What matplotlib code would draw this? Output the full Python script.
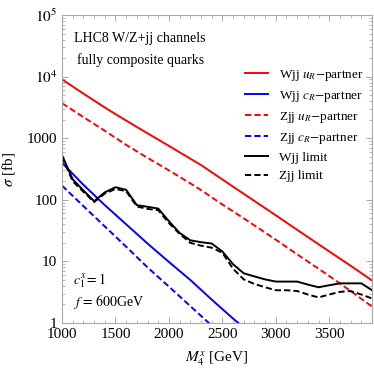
# LHC8 W/Z+jj cross sections vs. limits
import numpy as np
import matplotlib
matplotlib.use('Agg')
import matplotlib.pyplot as plt
from matplotlib.ticker import FixedLocator, FixedFormatter, NullFormatter

plt.rcParams['font.family'] = ['Liberation Serif', 'DejaVu Serif']
plt.rcParams['mathtext.fontset'] = 'stix'

# theory curves (M in GeV, sigma in fb)
m_uR = [1000, 1200, 1400, 1600, 1800, 2000, 2200, 2300, 2500, 2700, 3000, 3200, 3500, 3700, 3900]
wjj_uR = [9000, 5300, 3150, 1930, 1200, 750, 465, 367, 214, 125, 56, 32.5, 14.5, 8.5, 4.9]
zjj_uR = [3700, 2200, 1320, 780, 480, 300, 185, 144, 84, 50, 22.5, 13, 5.8, 3.3, 1.85]

m_cR = [1000, 1200, 1400, 1600, 1800, 2000, 2200, 2400, 2600, 2800]
wjj_cR = [400, 175, 82, 40, 19.5, 9.8, 5.0, 2.4, 1.18, 0.6]
zjj_cR = [170, 79, 37, 17.3, 8.0, 3.9, 1.88, 0.91, 0.45, 0.22]

# experimental limits
m_lim = [1000, 1100, 1200, 1300, 1400, 1500, 1600, 1700, 1800, 1900, 2000,
         2100, 2200, 2300, 2400, 2500, 2600, 2700, 2800, 2900, 3000,
         3100, 3200, 3300, 3400, 3500, 3600, 3700, 3800, 3900]
wjj_lim = [530, 215, 142, 95, 132, 160, 145, 82, 77, 72, 45,
           29, 22, 20.5, 19.5, 14.5, 9, 6.4, 5.7, 5.1, 4.7,
           4.7, 4.7, 4.2, 3.8, 4.1, 4.4, 4.4, 4.4, 3.4]
zjj_lim = [500, 200, 135, 92, 126, 150, 138, 78, 71, 68, 42,
           28, 20, 18, 16.7, 13.8, 7.6, 5.1, 4.3, 3.8, 3.4,
           3.4, 3.3, 2.9, 2.6, 2.9, 3.2, 3.3, 2.9, 2.5]

fig = plt.figure(figsize=(3.74, 3.74), dpi=100)
ax = fig.add_axes([0.1658, 0.1364, 0.8289, 0.8235])

lw = 1.4
dash = (0, (3.2, 1.6))
ax.plot(m_uR, wjj_uR, color='#ff0000', lw=lw, label=r'Wjj $u_R$$-$partner')
ax.plot(m_cR, wjj_cR, color='#0000ff', lw=lw, label=r'Wjj $c_R$$-$partner')
ax.plot(m_uR, zjj_uR, color='#ff0000', lw=lw, ls=dash, label=r'Zjj $u_R$$-$partner')
ax.plot(m_cR, zjj_cR, color='#0000ff', lw=lw, ls=dash, label=r'Zjj $c_R$$-$partner')
ax.plot(m_lim, wjj_lim, color='black', lw=lw, label='Wjj limit')
ax.plot(m_lim, zjj_lim, color='black', lw=lw, ls=dash, label='Zjj limit')

ax.set_yscale('log')
ax.set_xlim(1000, 3900)
ax.set_ylim(1, 1e5)

ax.yaxis.set_major_locator(FixedLocator([1, 10, 100, 1000, 1e4, 1e5]))
ax.yaxis.set_major_formatter(FixedFormatter(['1', '10', '100', '1000', r'$10^4$', r'$10^5$']))
ax.yaxis.set_minor_formatter(NullFormatter())
ax.set_xticks([1000, 1500, 2000, 2500, 3000, 3500])
ax.set_xticks(np.arange(1000, 3901, 100), minor=True)

ax.tick_params(which='both', direction='in', top=True, right=True, colors='#999999',
               labelcolor='black', labelsize=11)
ax.tick_params(which='major', length=4, width=0.6)
ax.tick_params(which='minor', length=2, width=0.5)
for s in ax.spines.values():
    s.set_color('#aaaaaa')
    s.set_linewidth(0.8)

ax.set_xlabel(r'$M_4^x$ [GeV]', fontsize=11, labelpad=6)
ax.set_ylabel(r'$\sigma$ [fb]', fontsize=11, labelpad=7)

ax.text(0.25, 0.925, 'LHC8 W/Z+jj channels', transform=ax.transAxes, ha='center',
        va='center', fontsize=10)
ax.text(0.255, 0.853, 'fully composite quarks', transform=ax.transAxes, ha='center',
        va='center', fontsize=10)
ax.text(0.035, 0.136, r'$c_1^x = 1$', transform=ax.transAxes, va='center', fontsize=10)
ax.text(0.035, 0.068, r'$f\,=\,600$GeV', transform=ax.transAxes, va='center', fontsize=10)

ax.legend(loc='upper left', bbox_to_anchor=(0.572, 0.845), frameon=False, fontsize=9.5,
          handlelength=1.75, handletextpad=0.85, labelspacing=0.45, borderaxespad=0)

fig.savefig('out.png', dpi=100)
